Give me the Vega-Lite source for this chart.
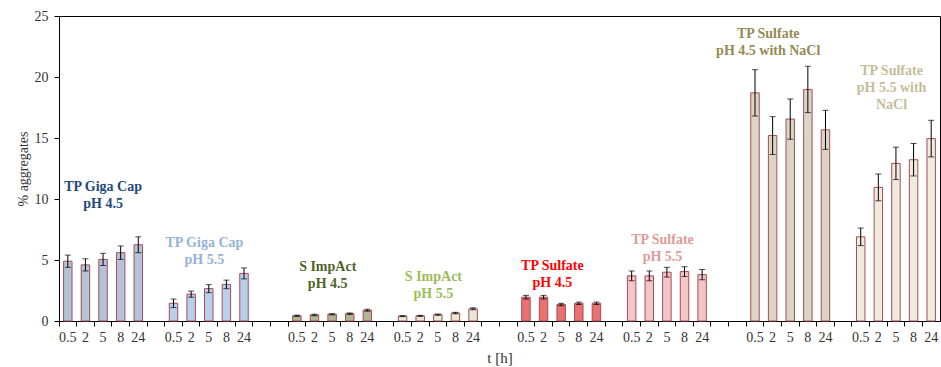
{
  "$schema": "https://vega.github.io/schema/vega-lite/v6.json",
  "autosize": {"type": "none"},
  "padding": {"left": 59, "top": 16, "right": 1, "bottom": 46},
  "width": 881,
  "height": 305,
  "background": "white",
  "config": {
    "view": {"stroke": "#000000", "strokeWidth": 1},
    "font": "Liberation Serif",
    "tick": {"bandSize": 6, "thickness": 1},
    "axis": {
      "domainColor": "#000000",
      "tickColor": "#000000",
      "grid": false,
      "labelFont": "Liberation Serif",
      "titleFont": "Liberation Serif",
      "labelColor": "#333333",
      "titleColor": "#333333",
      "titleFontWeight": "normal"
    }
  },
  "datasets": {
    "bars": [
      {"group": "TP Giga Cap pH 4.5", "slot": "1|0.5", "value": 4.9, "err": 0.5},
      {"group": "TP Giga Cap pH 4.5", "slot": "1|2", "value": 4.6, "err": 0.5},
      {"group": "TP Giga Cap pH 4.5", "slot": "1|5", "value": 5.05, "err": 0.5},
      {"group": "TP Giga Cap pH 4.5", "slot": "1|8", "value": 5.6, "err": 0.55},
      {"group": "TP Giga Cap pH 4.5", "slot": "1|24", "value": 6.25, "err": 0.65},
      {"group": "TP Giga Cap pH 5.5", "slot": "2|0.5", "value": 1.45, "err": 0.35},
      {"group": "TP Giga Cap pH 5.5", "slot": "2|2", "value": 2.2, "err": 0.25},
      {"group": "TP Giga Cap pH 5.5", "slot": "2|5", "value": 2.65, "err": 0.33},
      {"group": "TP Giga Cap pH 5.5", "slot": "2|8", "value": 3.0, "err": 0.35},
      {"group": "TP Giga Cap pH 5.5", "slot": "2|24", "value": 3.9, "err": 0.45},
      {"group": "S ImpAct pH 4.5", "slot": "3|0.5", "value": 0.43, "err": 0.05},
      {"group": "S ImpAct pH 4.5", "slot": "3|2", "value": 0.5, "err": 0.06},
      {"group": "S ImpAct pH 4.5", "slot": "3|5", "value": 0.55, "err": 0.05},
      {"group": "S ImpAct pH 4.5", "slot": "3|8", "value": 0.6, "err": 0.06},
      {"group": "S ImpAct pH 4.5", "slot": "3|24", "value": 0.88, "err": 0.08},
      {"group": "S ImpAct pH 5.5", "slot": "4|0.5", "value": 0.4, "err": 0.04},
      {"group": "S ImpAct pH 5.5", "slot": "4|2", "value": 0.42, "err": 0.04},
      {"group": "S ImpAct pH 5.5", "slot": "4|5", "value": 0.52, "err": 0.05},
      {"group": "S ImpAct pH 5.5", "slot": "4|8", "value": 0.65, "err": 0.06},
      {"group": "S ImpAct pH 5.5", "slot": "4|24", "value": 1.0, "err": 0.08},
      {"group": "TP Sulfate pH 4.5", "slot": "5|0.5", "value": 1.95, "err": 0.15},
      {"group": "TP Sulfate pH 4.5", "slot": "5|2", "value": 1.95, "err": 0.15},
      {"group": "TP Sulfate pH 4.5", "slot": "5|5", "value": 1.35, "err": 0.1},
      {"group": "TP Sulfate pH 4.5", "slot": "5|8", "value": 1.45, "err": 0.1},
      {"group": "TP Sulfate pH 4.5", "slot": "5|24", "value": 1.45, "err": 0.1},
      {"group": "TP Sulfate pH 5.5", "slot": "6|0.5", "value": 3.7, "err": 0.4},
      {"group": "TP Sulfate pH 5.5", "slot": "6|2", "value": 3.7, "err": 0.4},
      {"group": "TP Sulfate pH 5.5", "slot": "6|5", "value": 4.0, "err": 0.4},
      {"group": "TP Sulfate pH 5.5", "slot": "6|8", "value": 4.05, "err": 0.4},
      {"group": "TP Sulfate pH 5.5", "slot": "6|24", "value": 3.8, "err": 0.42},
      {"group": "TP Sulfate pH 4.5 with NaCl", "slot": "7|0.5", "value": 18.7, "err": 1.9},
      {"group": "TP Sulfate pH 4.5 with NaCl", "slot": "7|2", "value": 15.2, "err": 1.55},
      {"group": "TP Sulfate pH 4.5 with NaCl", "slot": "7|5", "value": 16.55, "err": 1.65},
      {"group": "TP Sulfate pH 4.5 with NaCl", "slot": "7|8", "value": 18.98, "err": 1.9},
      {"group": "TP Sulfate pH 4.5 with NaCl", "slot": "7|24", "value": 15.67, "err": 1.6},
      {"group": "TP Sulfate pH 5.5 with NaCl", "slot": "8|0.5", "value": 6.9, "err": 0.72},
      {"group": "TP Sulfate pH 5.5 with NaCl", "slot": "8|2", "value": 10.95, "err": 1.1},
      {"group": "TP Sulfate pH 5.5 with NaCl", "slot": "8|5", "value": 12.92, "err": 1.33},
      {"group": "TP Sulfate pH 5.5 with NaCl", "slot": "8|8", "value": 13.22, "err": 1.33},
      {"group": "TP Sulfate pH 5.5 with NaCl", "slot": "8|24", "value": 14.95, "err": 1.5}
    ],
    "labels": [
      {"group": "TP Giga Cap pH 4.5", "text": "TP Giga Cap", "slot": "1|5", "ly": 11.58, "anchor": "center"},
      {"group": "TP Giga Cap pH 4.5", "text": "pH 4.5", "slot": "1|5", "ly": 10.19, "anchor": "center"},
      {"group": "TP Giga Cap pH 5.5", "text": "TP Giga Cap", "slot": "2|5", "ly": 6.94, "anchor": "quarter"},
      {"group": "TP Giga Cap pH 5.5", "text": "pH 5.5", "slot": "2|5", "ly": 5.55, "anchor": "quarter"},
      {"group": "S ImpAct pH 4.5", "text": "S ImpAct", "slot": "3|5", "ly": 5.0, "anchor": "quarter"},
      {"group": "S ImpAct pH 4.5", "text": "pH 4.5", "slot": "3|5", "ly": 3.61, "anchor": "quarter"},
      {"group": "S ImpAct pH 5.5", "text": "S ImpAct", "slot": "4|5", "ly": 4.2, "anchor": "quarter"},
      {"group": "S ImpAct pH 5.5", "text": "pH 5.5", "slot": "4|5", "ly": 2.81, "anchor": "quarter"},
      {"group": "TP Sulfate pH 4.5", "text": "TP Sulfate", "slot": "5|5", "ly": 5.06, "anchor": "edge"},
      {"group": "TP Sulfate pH 4.5", "text": "pH 4.5", "slot": "5|5", "ly": 3.67, "anchor": "edge"},
      {"group": "TP Sulfate pH 5.5", "text": "TP Sulfate", "slot": "6|5", "ly": 7.21, "anchor": "quarter"},
      {"group": "TP Sulfate pH 5.5", "text": "pH 5.5", "slot": "6|5", "ly": 5.82, "anchor": "quarter"},
      {"group": "TP Sulfate pH 4.5 with NaCl", "text": "TP Sulfate", "slot": "7|2", "ly": 24.07, "anchor": "quarter"},
      {"group": "TP Sulfate pH 4.5 with NaCl", "text": "pH 4.5 with NaCl", "slot": "7|2", "ly": 22.68, "anchor": "quarter"},
      {"group": "TP Sulfate pH 5.5 with NaCl", "text": "TP Sulfate", "slot": "8|5", "ly": 21.09, "anchor": "quarter"},
      {"group": "TP Sulfate pH 5.5 with NaCl", "text": "pH 5.5 with", "slot": "8|5", "ly": 19.7, "anchor": "quarter"},
      {"group": "TP Sulfate pH 5.5 with NaCl", "text": "NaCl", "slot": "8|5", "ly": 18.31, "anchor": "quarter"}
    ]
  },
  "layer": [
    {
      "data": {"name": "bars"},
      "mark": {"type": "bar", "width": {"band": 0.48}, "stroke": "#a84c55", "strokeWidth": 1},
      "encoding": {
        "x": {
          "field": "slot",
          "type": "nominal",
          "sort": null,
          "scale": {
            "domain": [
              "1|0.5", "1|2", "1|5", "1|8", "1|24", "gap1",
              "2|0.5", "2|2", "2|5", "2|8", "2|24", "gap2", "gap3",
              "3|0.5", "3|2", "3|5", "3|8", "3|24", "gap4",
              "4|0.5", "4|2", "4|5", "4|8", "4|24", "gap5", "gap6",
              "5|0.5", "5|2", "5|5", "5|8", "5|24", "gap7",
              "6|0.5", "6|2", "6|5", "6|8", "6|24", "gap8", "gap9",
              "7|0.5", "7|2", "7|5", "7|8", "7|24", "gap10",
              "8|0.5", "8|2", "8|5", "8|8", "8|24"
            ],
            "paddingInner": 0,
            "paddingOuter": 0
          },
          "axis": {
            "title": "t [h]",
            "titleFontSize": 15,
            "titlePadding": 6,
            "labelFontSize": 14,
            "labelAngle": 0,
            "labelPadding": 4,
            "tickSize": 5,
            "bandPosition": 0,
            "labelExpr": "indexof(datum.value, '|') > 0 ? split(datum.value, '|')[1] : ''"
          }
        },
        "y": {
          "field": "value",
          "type": "quantitative",
          "title": "% aggregates",
          "scale": {"domain": [0, 25], "nice": false},
          "axis": {
            "titleFontSize": 14,
            "titlePadding": 4,
            "labelFontSize": 14,
            "labelPadding": 6,
            "tickSize": 5,
            "values": [0, 5, 10, 15, 20, 25]
          }
        },
        "fill": {
          "field": "group",
          "type": "nominal",
          "legend": null,
          "scale": {
            "domain": ["TP Giga Cap pH 4.5", "TP Giga Cap pH 5.5", "S ImpAct pH 4.5", "S ImpAct pH 5.5", "TP Sulfate pH 4.5", "TP Sulfate pH 5.5", "TP Sulfate pH 4.5 with NaCl", "TP Sulfate pH 5.5 with NaCl"],
            "range": ["#b3c3d8", "#b8d0ea", "#b0b596", "#e6ead4", "#e87272", "#f2c6c6", "#dad5c4", "#eeebdf"]
          }
        }
      }
    },
    {
      "data": {"name": "bars"},
      "mark": {"type": "errorbar", "ticks": {"size": 6}, "color": "#000000"},
      "encoding": {
        "x": {"field": "slot", "type": "nominal"},
        "y": {"field": "value", "type": "quantitative", "title": "% aggregates"},
        "yError": {"field": "err"}
      }
    },
    {
      "data": {"name": "labels"},
      "transform": [{"filter": "datum.anchor === 'quarter'"}],
      "mark": {"type": "text", "fontWeight": "bold", "fontSize": 14, "baseline": "top", "align": "center", "dx": -4.4},
      "encoding": {
        "x": {"field": "slot", "type": "nominal"},
        "y": {"field": "ly", "type": "quantitative", "title": "% aggregates"},
        "text": {"field": "text"},
        "color": {
          "field": "group",
          "type": "nominal",
          "legend": null,
          "scale": {
            "domain": ["TP Giga Cap pH 4.5", "TP Giga Cap pH 5.5", "S ImpAct pH 4.5", "S ImpAct pH 5.5", "TP Sulfate pH 4.5", "TP Sulfate pH 5.5", "TP Sulfate pH 4.5 with NaCl", "TP Sulfate pH 5.5 with NaCl"],
            "range": ["#1f497d", "#95b3d7", "#4f6228", "#9bbb59", "#ff0000", "#e09a98", "#948a54", "#c4bd97"]
          }
        }
      }
    },
    {
      "data": {"name": "labels"},
      "transform": [{"filter": "datum.anchor === 'center'"}],
      "mark": {"type": "text", "fontWeight": "bold", "fontSize": 14, "baseline": "top", "align": "center"},
      "encoding": {
        "x": {"field": "slot", "type": "nominal"},
        "y": {"field": "ly", "type": "quantitative", "title": "% aggregates"},
        "text": {"field": "text"},
        "color": {"field": "group", "type": "nominal", "legend": null}
      }
    },
    {
      "data": {"name": "labels"},
      "transform": [{"filter": "datum.anchor === 'edge'"}],
      "mark": {"type": "text", "fontWeight": "bold", "fontSize": 14, "baseline": "top", "align": "center", "dx": -8.8},
      "encoding": {
        "x": {"field": "slot", "type": "nominal"},
        "y": {"field": "ly", "type": "quantitative", "title": "% aggregates"},
        "text": {"field": "text"},
        "color": {"field": "group", "type": "nominal", "legend": null}
      }
    }
  ]
}
